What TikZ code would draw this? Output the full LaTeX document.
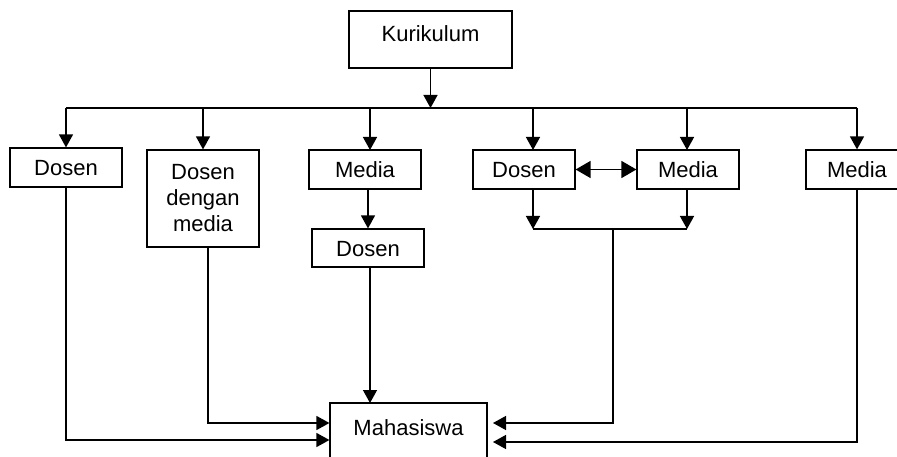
\documentclass[tikz,border=0pt]{standalone}
\usepackage{fontspec}
\setmainfont{Liberation Sans}
\usetikzlibrary{arrows.meta}
\begin{document}
\begin{tikzpicture}[x=1pt,y=-1pt, line width=1.4pt,
  box/.style={draw, line width=1.2pt, inner sep=0pt, align=center, font=\fontsize{22}{26}\selectfont},
  one/.style={box, text height=16pt, text depth=0pt},
  arr/.style={-{Triangle[length=13pt,width=14pt]}},
  dbl/.style={{Triangle[length=15pt,width=17pt]}-{Triangle[length=15pt,width=17pt]}}]
\useasboundingbox (0,0) rectangle (897,457);
\clip (0,0) rectangle (897,457);

\node[box, text height=16pt, text depth=11pt, minimum width=163pt, minimum height=57pt] (kur) at (430.5,39.5) {Kurikulum};
\node[one, minimum width=112pt, minimum height=39pt] (d1) at (66,167.5) {Dosen};
\node[box, minimum width=112pt, minimum height=97pt] (dm) at (203,198.5) {Dosen\\dengan\\media};
\node[one, minimum width=112pt, minimum height=39pt] (m3) at (365,169.5) {Media};
\node[one, minimum width=112pt, minimum height=38pt] (d3) at (368,248) {Dosen};
\node[one, minimum width=102pt, minimum height=39pt] (d4) at (524,169.5) {Dosen};
\node[one, minimum width=102pt, minimum height=39pt] (m5) at (688,169.5) {Media};
\node[one, minimum width=102pt, minimum height=39pt] (m6) at (857,169.5) {Media};
\node[box, text height=16pt, text depth=19pt, minimum width=157pt, minimum height=67pt] (mhs) at (408.5,436.5) {Mahasiswa};

\coordinate (busL) at (66,108);
\coordinate (busR) at (857,108);
\coordinate (j) at (613,229);

% from Kurikulum
\draw[arr] (kur.south) -- (430.5,108);
\draw (busL) -- (busR);
\draw[arr] (busL) -- (d1.north);
\draw[arr] (203,108) -- (dm.north);
\draw[arr] (370,108) -- (370,150);
\draw[arr] (533,108) -- (533,150);
\draw[arr] (687,108) -- (687,150);
\draw[arr] (busR) -- (m6.north);

% middle
\draw[arr] (368,189) -- (d3.north);
\draw[dbl] (d4.east) -- (m5.west);
\draw[arr] (533,189) -- (533,229);
\draw[arr] (687,189) -- (687,229);
\draw (533,229) -- (687,229);

% to Mahasiswa
\draw[arr] (d1.south) -- (66,440) -- (mhs.west |- 0,440);
\draw[arr] (208,247) -- (208,423) -- (mhs.west |- 0,423);
\draw[arr] (370,267) -- (370,403);
\draw[arr] (j) -- (613,423) -- (493,423);
\draw[arr] (m6.south) -- (857,442) -- (493,442);
\end{tikzpicture}
\end{document}
